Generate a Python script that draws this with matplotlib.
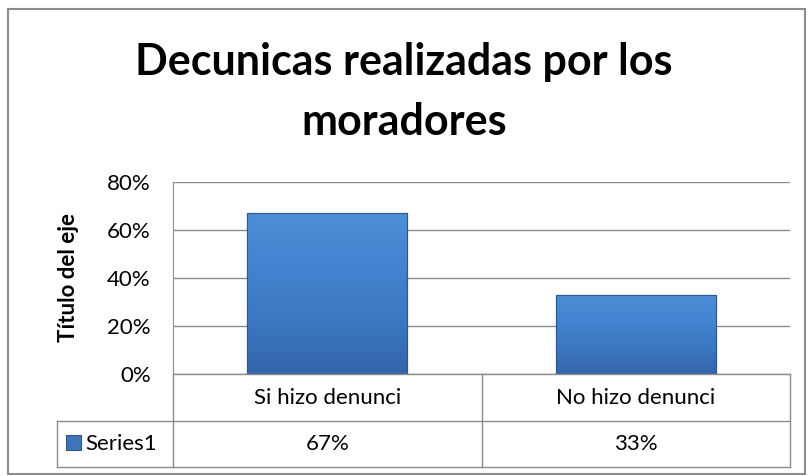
import numpy as np
import matplotlib.pyplot as plt
from matplotlib.patches import Rectangle
from matplotlib.colors import LinearSegmentedColormap

categories = ['Si hizo denunci', 'No hizo denunci']
values = [0.67, 0.33]
value_labels = ['67%', '33%']
series_name = 'Series1'
yticks = [0, 0.2, 0.4, 0.6, 0.8]
ytick_labels = ['0%', '20%', '40%', '60%', '80%']
title = 'Decunicas realizadas por los\nmoradores'
ylabel = 'Título del eje'

plt.rcParams['font.family'] = ['Lato', 'DejaVu Sans']

W, H = 808, 476
fig = plt.figure(figsize=(W / 100, H / 100), dpi=100)


def fx(px):
    return px / W


def fy(py):
    return 1 - py / H


# outer chart border
fig.patches.append(Rectangle((fx(8), fy(474)), fx(797), 465 / H, transform=fig.transFigure,
                             fill=False, edgecolor='#8c8c8c', linewidth=1.5))

left, right, top, bottom = 173, 790, 182, 374
ax = fig.add_axes([fx(left), fy(bottom), fx(right - left), (bottom - top) / H])

x = np.arange(len(categories))
bars = ax.bar(x, values, width=0.52, color='#3d74b9', edgecolor='#2a578c', linewidth=0.8, zorder=3)
cmap = LinearSegmentedColormap.from_list('bar', ['#3366aa', '#3c77c2', '#4383cf', '#4d8ed9'])
grad = np.linspace(0, 1, 256).reshape(-1, 1)
for b in bars:
    im = ax.imshow(grad, cmap=cmap, aspect='auto', zorder=3.5, origin='lower',
                   extent=[b.get_x(), b.get_x() + b.get_width(), 0, b.get_height()])
    im.set_clip_path(b)
    ax.bar(b.get_x() + b.get_width() / 2, b.get_height(), width=b.get_width(), fill=False,
           edgecolor='#2a578c', linewidth=0.8, zorder=4)

ax.set_xlim(-0.5, len(categories) - 0.5)
ax.set_ylim(0, 0.8)
ax.set_yticks(yticks)
ax.set_yticklabels(ytick_labels, fontsize=16)
ax.set_xticks([])
ax.tick_params(axis='y', length=0, pad=16)
ax.yaxis.grid(True, color='#8c8c8c', linewidth=1)
ax.set_axisbelow(True)
for s in ['top', 'right', 'bottom']:
    ax.spines[s].set_visible(False)
ax.spines['left'].set_color('#8c8c8c')
ax.set_ylabel(ylabel, fontsize=16, fontweight='bold', labelpad=20)

fig.text(0.5, fy(92), title, ha='center', va='center', fontsize=31, fontweight='bold',
         linespacing=1.6)

# data table below the plot
row1, row2, row3 = 374, 421, 467
tab_left = 57
col_edges = [left + (right - left) * i / len(categories) for i in range(len(categories) + 1)]
lc = '#8c8c8c'
for yy in [row1, row2, row3]:
    x0 = left if yy == row1 else tab_left
    fig.add_artist(plt.Line2D([fx(x0), fx(right)], [fy(yy), fy(yy)], color=lc, lw=1))
for xx in col_edges:
    fig.add_artist(plt.Line2D([fx(xx), fx(xx)], [fy(row1), fy(row3)], color=lc, lw=1))
fig.add_artist(plt.Line2D([fx(tab_left), fx(tab_left)], [fy(row2), fy(row3)], color=lc, lw=1))

for i, (c, v) in enumerate(zip(categories, value_labels)):
    cx = (col_edges[i] + col_edges[i + 1]) / 2
    fig.text(fx(cx), fy((row1 + row2) / 2), c, ha='center', va='center', fontsize=16)
    fig.text(fx(cx), fy((row2 + row3) / 2), v, ha='center', va='center', fontsize=16)

fig.patches.append(Rectangle((fx(66), fy(450)), fx(15), 15 / H, transform=fig.transFigure,
                             facecolor='#3f75b8', edgecolor='#2a578c', lw=0.8))
fig.text(fx(85), fy((row2 + row3) / 2), series_name, ha='left', va='center', fontsize=16)

fig.savefig('out.png', dpi=100)
